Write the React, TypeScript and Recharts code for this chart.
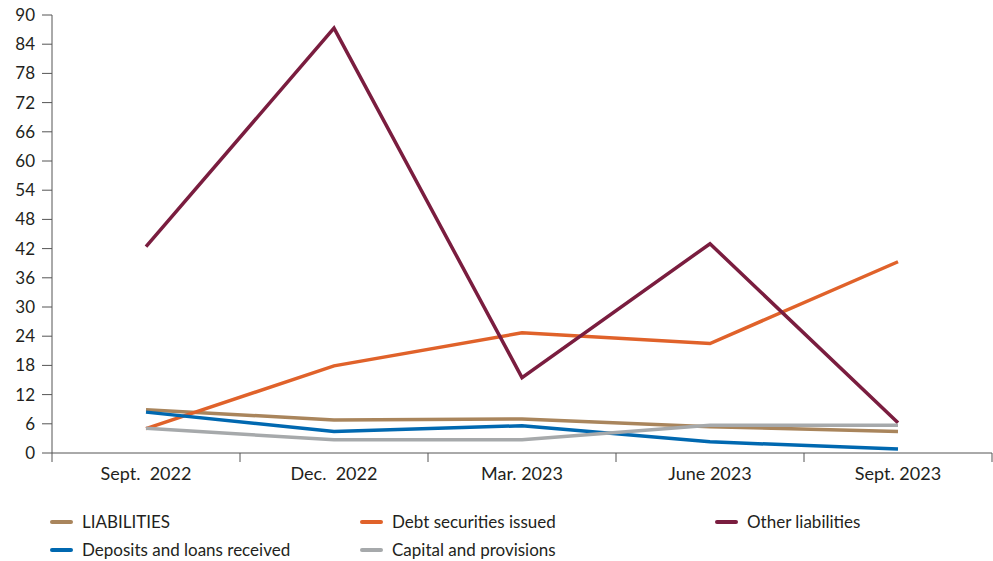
import { LineChart, Line, XAxis, YAxis, Legend } from 'recharts';

const quarters = ['Sept.  2022', 'Dec.  2022', 'Mar. 2023', 'June 2023', 'Sept. 2023'];

const liabilities = [8.9, 6.8, 7.0, 5.4, 4.4];
const debtSecurities = [5.0, 17.9, 24.7, 22.5, 39.3];
const otherLiabilities = [42.4, 87.3, 15.5, 43.0, 6.2];
const depositsLoans = [8.4, 4.4, 5.6, 2.3, 0.8];
const capitalProvisions = [5.1, 2.7, 2.7, 5.7, 5.7];

const yTicks = [0, 6, 12, 18, 24, 30, 36, 42, 48, 54, 60, 66, 72, 78, 84, 90];

const series = [
  { key: 'liabilities', name: 'LIABILITIES', color: '#a9855c' },
  { key: 'debt', name: 'Debt securities issued', color: '#e0622a' },
  { key: 'other', name: 'Other liabilities', color: '#7a1d3f' },
  { key: 'deposits', name: 'Deposits and loans received', color: '#0068b0' },
  { key: 'capital', name: 'Capital and provisions', color: '#a6a9ab' },
];

// points sit in the middle of each quarter band, tick marks on band edges
const chartData = quarters.map((q, i) => ({
  x: i + 0.5,
  label: q,
  liabilities: liabilities[i],
  debt: debtSecurities[i],
  other: otherLiabilities[i],
  deposits: depositsLoans[i],
  capital: capitalProvisions[i],
}));

const xTicks = [0, 0.5, 1, 1.5, 2, 2.5, 3, 3.5, 4, 4.5, 5];

const textColor = '#231f20';
const font = 'Lato, "Open Sans", sans-serif';

function QuarterTick({ x, y, payload }: any) {
  const v = payload.value as number;
  if (Number.isInteger(v)) {
    return <line x1={x} x2={x} y1={y} y2={y + 9} stroke="#555" strokeWidth={1} />;
  }
  const label = quarters[Math.floor(v)];
  return (
    <text x={x} y={y + 27} textAnchor="middle" fill={textColor} fontSize={18} fontFamily={font} style={{ whiteSpace: 'pre' }}>
      {label}
    </text>
  );
}

function LegendView() {
  return (
    <div
      style={{
        height: 78,
        paddingTop: 29,
        boxSizing: 'border-box',
        display: 'grid',
        gridTemplateColumns: '310px 355px auto',
        gridAutoRows: '20px',
        rowGap: 8,
        paddingLeft: 50,
        fontFamily: font,
        fontSize: 17,
        lineHeight: '20px',
        color: textColor,
      }}
    >
      {series.map((s) => (
        <div key={s.key} style={{ display: 'flex', alignItems: 'center', height: 20 }}>
          <span
            style={{
              display: 'inline-block',
              width: 23,
              height: 4,
              borderRadius: 2,
              background: s.color,
              marginRight: 9,
            }}
          />
          {s.name}
        </div>
      ))}
    </div>
  );
}

export default function App() {
  return (
    <div style={{ position: 'absolute', left: 0, top: 0, background: '#fff' }}>
      <LineChart width={993} height={561} data={chartData} margin={{ top: 15, right: 1, left: 0, bottom: 0 }}>
        <XAxis
          dataKey="x"
          type="number"
          domain={[0, 5]}
          ticks={xTicks}
          interval={0}
          tickLine={false}
          tickSize={0}
          tickMargin={0}
          height={30}
          axisLine={{ stroke: '#555' }}
          tick={<QuarterTick />}
        />
        <YAxis
          domain={[0, 90]}
          ticks={yTicks}
          interval={0}
          width={52}
          tickSize={10}
          tickMargin={7}
          axisLine={{ stroke: '#555' }}
          tickLine={{ stroke: '#555' }}
          tick={{ fill: textColor, fontSize: 17, fontFamily: font }}
        />
        <Legend verticalAlign="bottom" content={<LegendView />} />
        {series.map((s) => (
          <Line
            key={s.key}
            dataKey={s.key}
            name={s.name}
            stroke={s.color}
            strokeWidth={3.5}
            dot={false}
            activeDot={false}
            isAnimationActive={false}
          />
        ))}
      </LineChart>
    </div>
  );
}
